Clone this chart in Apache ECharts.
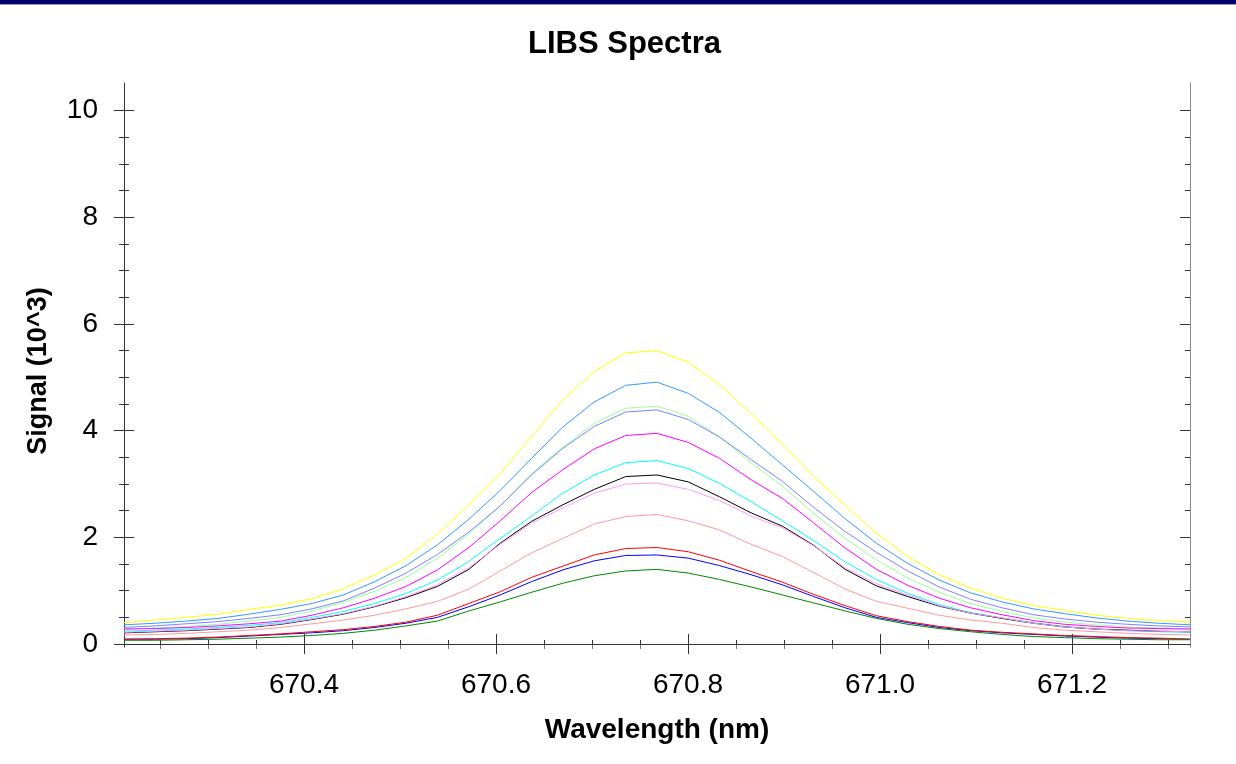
<!DOCTYPE html>
<html>
<head>
<meta charset="utf-8">
<title>LIBS Spectra</title>
<script src="https://cdn.jsdelivr.net/npm/echarts@6/dist/echarts.min.js"></script>
<style>
  html, body { margin: 0; padding: 0; background: #fff; }
  #chart-container { width: 1236px; height: 764px; }
</style>
</head>
<body>
<div id="chart-container"></div>
<script>
// wavelength of each spectrometer pixel (nm)
const wavelength = [
  670.2125, 670.2452, 670.2778, 670.3105, 670.3431, 670.3758, 670.4085,
  670.4411, 670.4738, 670.5064, 670.5391, 670.5718, 670.6044, 670.6371,
  670.6697, 670.7024, 670.7351, 670.7677, 670.8004, 670.8330, 670.8657,
  670.8984, 670.9310, 670.9637, 670.9963, 671.0290, 671.0617, 671.0943,
  671.1270, 671.1596, 671.1923, 671.2250, 671.2576, 671.2903, 671.3229
]

// signal, in 10^3 counts
const yellowSignal = [0.40, 0.45, 0.50, 0.56, 0.65, 0.73, 0.85, 1.04, 1.30, 1.61, 2.06, 2.61, 3.20, 3.89, 4.58, 5.11, 5.46, 5.50, 5.28, 4.86, 4.32, 3.74, 3.14, 2.60, 2.08, 1.64, 1.30, 1.05, 0.86, 0.72, 0.63, 0.54, 0.48, 0.44, 0.41]
const skyBlueSignal = [0.36, 0.39, 0.43, 0.48, 0.56, 0.65, 0.76, 0.92, 1.17, 1.47, 1.86, 2.34, 2.88, 3.48, 4.07, 4.54, 4.85, 4.91, 4.70, 4.34, 3.86, 3.36, 2.86, 2.35, 1.89, 1.51, 1.20, 0.96, 0.79, 0.66, 0.57, 0.49, 0.43, 0.39, 0.36]
const paleGreenSignal = [0.28, 0.30, 0.33, 0.37, 0.43, 0.50, 0.62, 0.78, 0.99, 1.25, 1.61, 2.06, 2.59, 3.20, 3.69, 4.14, 4.42, 4.46, 4.27, 3.88, 3.40, 2.96, 2.45, 1.98, 1.58, 1.24, 0.97, 0.76, 0.61, 0.49, 0.41, 0.36, 0.32, 0.30, 0.29]
const violetSignal = [0.31, 0.34, 0.38, 0.42, 0.48, 0.55, 0.66, 0.81, 1.05, 1.33, 1.68, 2.10, 2.59, 3.17, 3.67, 4.08, 4.35, 4.39, 4.21, 3.88, 3.46, 3.05, 2.56, 2.11, 1.72, 1.37, 1.07, 0.84, 0.68, 0.55, 0.47, 0.41, 0.37, 0.34, 0.32]
const magentaSignal = [0.28, 0.29, 0.31, 0.34, 0.38, 0.43, 0.54, 0.68, 0.86, 1.08, 1.39, 1.81, 2.31, 2.84, 3.27, 3.66, 3.91, 3.95, 3.78, 3.48, 3.08, 2.73, 2.27, 1.80, 1.40, 1.10, 0.86, 0.68, 0.55, 0.44, 0.37, 0.33, 0.30, 0.29, 0.28]
const cyanSignal = [0.24, 0.26, 0.28, 0.31, 0.35, 0.40, 0.50, 0.61, 0.76, 0.95, 1.20, 1.55, 1.98, 2.40, 2.83, 3.17, 3.40, 3.44, 3.29, 3.01, 2.67, 2.31, 1.94, 1.54, 1.21, 0.95, 0.74, 0.59, 0.49, 0.40, 0.33, 0.28, 0.25, 0.23, 0.22]
const blackSignal = [0.21, 0.23, 0.25, 0.28, 0.31, 0.37, 0.46, 0.56, 0.70, 0.87, 1.08, 1.40, 1.89, 2.30, 2.61, 2.90, 3.14, 3.17, 3.04, 2.76, 2.46, 2.21, 1.85, 1.40, 1.09, 0.89, 0.71, 0.58, 0.48, 0.39, 0.32, 0.28, 0.26, 0.24, 0.23]
const pinkSignal = [0.22, 0.24, 0.26, 0.29, 0.32, 0.38, 0.47, 0.57, 0.71, 0.89, 1.11, 1.43, 1.87, 2.27, 2.55, 2.83, 3.00, 3.02, 2.90, 2.69, 2.40, 2.18, 1.84, 1.43, 1.13, 0.92, 0.72, 0.58, 0.49, 0.39, 0.32, 0.28, 0.25, 0.24, 0.23]
const salmonSignal = [0.17, 0.18, 0.20, 0.23, 0.26, 0.31, 0.38, 0.45, 0.54, 0.66, 0.80, 1.03, 1.37, 1.71, 1.98, 2.25, 2.39, 2.43, 2.31, 2.14, 1.87, 1.64, 1.34, 1.03, 0.80, 0.67, 0.54, 0.45, 0.39, 0.31, 0.26, 0.23, 0.20, 0.18, 0.17]
const redSignal = [0.09, 0.10, 0.11, 0.13, 0.16, 0.19, 0.23, 0.27, 0.33, 0.41, 0.54, 0.76, 0.98, 1.25, 1.46, 1.67, 1.79, 1.81, 1.73, 1.57, 1.36, 1.16, 0.93, 0.72, 0.53, 0.42, 0.33, 0.26, 0.22, 0.19, 0.16, 0.14, 0.12, 0.11, 0.09]
const blueSignal = [0.09, 0.09, 0.10, 0.12, 0.15, 0.18, 0.21, 0.25, 0.31, 0.39, 0.50, 0.70, 0.92, 1.17, 1.39, 1.56, 1.66, 1.67, 1.61, 1.47, 1.30, 1.11, 0.89, 0.68, 0.50, 0.40, 0.31, 0.25, 0.21, 0.18, 0.15, 0.13, 0.11, 0.10, 0.09]
const greenSignal = [0.07, 0.07, 0.08, 0.09, 0.11, 0.13, 0.16, 0.20, 0.26, 0.34, 0.43, 0.62, 0.79, 0.97, 1.14, 1.28, 1.37, 1.40, 1.33, 1.21, 1.07, 0.92, 0.77, 0.62, 0.48, 0.37, 0.29, 0.23, 0.18, 0.14, 0.12, 0.10, 0.09, 0.08, 0.08]

// tick and label positions
const xTickValues = [
  670.25, 670.3, 670.35, 670.4, 670.45, 670.5, 670.55, 670.6, 670.65, 670.7, 670.75,
  670.8, 670.85, 670.9, 670.95, 671.0, 671.05, 671.1, 671.15, 671.2, 671.25, 671.3
]
const xLabelValues = [670.4, 670.6, 670.8, 671.0, 671.2]
const yTickValues = [0, 0.5, 1, 1.5, 2, 2.5, 3, 3.5, 4, 4.5, 5, 5.5, 6, 6.5, 7, 7.5, 8, 8.5, 9, 9.5, 10]
const yLabelValues = [0, 2, 4, 6, 8, 10]

const spectra = [
  { name: "Shot 1", color: "#ffff00", values: yellowSignal },
  { name: "Shot 2", color: "#3399ff", values: skyBlueSignal },
  { name: "Shot 3", color: "#99ff99", values: paleGreenSignal },
  { name: "Shot 4", color: "#8080ff", values: violetSignal },
  { name: "Shot 5", color: "#ff00ff", values: magentaSignal },
  { name: "Shot 6", color: "#00ffff", values: cyanSignal },
  { name: "Shot 7", color: "#000000", values: blackSignal },
  { name: "Shot 8", color: "#ff99ff", values: pinkSignal },
  { name: "Shot 9", color: "#ff9999", values: salmonSignal },
  { name: "Shot 10", color: "#0000ff", values: blueSignal },
  { name: "Shot 11", color: "#ff0000", values: redSignal },
  { name: "Shot 12", color: "#008800", values: greenSignal }
]

const fontFamily = "Liberation Sans, Arial, sans-serif"
const frameColor = "#333333"

var dom = document.getElementById("chart-container")
var myChart = echarts.init(dom, null, { renderer: "canvas" })

const xRange = { type: "value", min: 670.2125, max: 671.323, splitLine: { show: false } }
const yRange = { type: "value", min: -0.056, max: 10.52, splitLine: { show: false } }

// one axis per tick style, all sharing the same range
const tickAxis = (base, extra) => ({
  ...base,
  axisLine: { show: false },
  axisLabel: { show: false },
  ...extra
})

var option = {
  animation: false,
  backgroundColor: "#ffffff",
  title: {
    text: "LIBS Spectra",
    left: 523,
    top: 24,
    textStyle: { fontFamily, fontSize: 31, fontWeight: "bold", color: "#000" }
  },
  graphic: [
    { type: "rect", shape: { x: 0, y: 0, width: 1236, height: 4 }, style: { fill: "#000066" } },
    { type: "line", shape: { x1: 0, y1: 4.5, x2: 1236, y2: 4.5 }, style: { stroke: "#999", lineWidth: 1 } }
  ],
  grid: { left: 124, right: 46, top: 83, bottom: 117, containLabel: false },
  xAxis: [
    {
      ...xRange,
      position: "bottom",
      axisLine: { show: true, lineStyle: { color: frameColor, width: 1 } },
      axisTick: { show: true, customValues: xTickValues, length: 4, lineStyle: { color: frameColor } },
      axisLabel: {
        customValues: xLabelValues,
        formatter: (v) => v.toFixed(1),
        fontFamily, fontSize: 28, color: "#000", margin: 24
      },
      name: "Wavelength (nm)",
      nameLocation: "middle",
      nameGap: 69,
      nameTextStyle: { fontFamily, fontSize: 28, fontWeight: "bold", color: "#000" }
    },
    tickAxis(xRange, { position: "bottom", axisTick: { customValues: xTickValues, inside: true, length: 4, lineStyle: { color: frameColor } } }),
    tickAxis(xRange, { position: "bottom", axisTick: { customValues: xLabelValues, length: 10, lineStyle: { color: frameColor } } }),
    tickAxis(xRange, { position: "bottom", axisTick: { customValues: xLabelValues, inside: true, length: 10, lineStyle: { color: frameColor } } }),
    {
      ...xRange,
      position: "top",
      axisLine: { show: true, lineStyle: { color: frameColor, width: 1 } },
      axisTick: { customValues: xTickValues, inside: true, length: 5, lineStyle: { color: "#777" } },
      axisLabel: { show: false }
    },
    tickAxis(xRange, { position: "top", axisTick: { customValues: xLabelValues, inside: true, length: 10, lineStyle: { color: frameColor } } })
  ],
  yAxis: [
    {
      ...yRange,
      position: "left",
      axisLine: { show: true, lineStyle: { color: frameColor, width: 1 } },
      axisTick: { show: true, customValues: yTickValues, length: 5, lineStyle: { color: frameColor } },
      axisLabel: { customValues: yLabelValues, fontFamily, fontSize: 28, color: "#000", margin: 26 },
      name: "Signal (10^3)",
      nameLocation: "middle",
      nameGap: 72,
      nameRotate: 90,
      nameTextStyle: { fontFamily, fontSize: 27, fontWeight: "bold", color: "#000", padding: [0, 12, 0, 0] }
    },
    tickAxis(yRange, { position: "left", axisTick: { customValues: yTickValues, inside: true, length: 5, lineStyle: { color: frameColor } } }),
    tickAxis(yRange, { position: "left", axisTick: { customValues: yLabelValues, length: 10, lineStyle: { color: frameColor } } }),
    tickAxis(yRange, { position: "left", axisTick: { customValues: yLabelValues, inside: true, length: 10, lineStyle: { color: frameColor } } }),
    {
      ...yRange,
      position: "right",
      axisLine: { show: true, lineStyle: { color: "#888888", width: 1 } },
      axisTick: { customValues: yTickValues, inside: true, length: 5, lineStyle: { color: frameColor } },
      axisLabel: { show: false }
    },
    tickAxis(yRange, { position: "right", axisTick: { customValues: yLabelValues, inside: true, length: 10, lineStyle: { color: frameColor } } })
  ],
  series: spectra.map((s, idx) => ({
    name: s.name,
    type: "line",
    xAxisIndex: 0,
    yAxisIndex: 0,
    showSymbol: false,
    symbol: "none",
    silent: true,
    lineStyle: { color: s.color, width: 1 },
    itemStyle: { color: s.color },
    data: wavelength.map((w, i) => [w, s.values[i]]),
    markLine: idx === 0 ? {
      silent: true,
      symbol: "none",
      label: { show: false },
      lineStyle: { color: frameColor, width: 1, type: "solid" },
      data: [{ yAxis: 0 }]
    } : undefined
  }))
}

myChart.setOption(option)
window.addEventListener("resize", myChart.resize)
</script>
</body>
</html>
